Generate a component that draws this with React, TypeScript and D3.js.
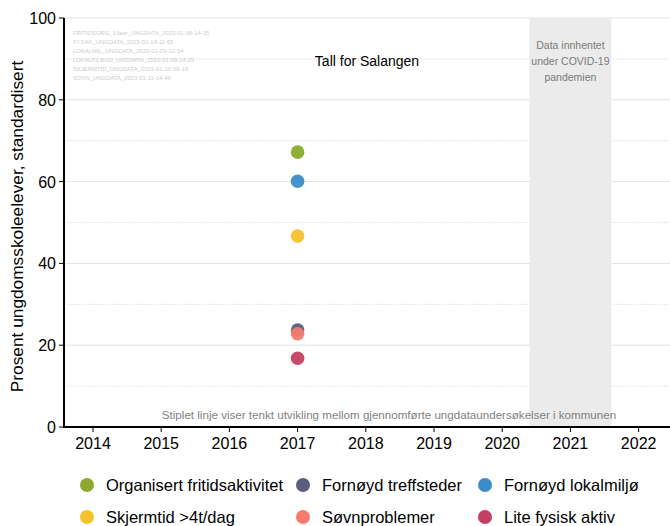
import React from "react";
import * as d3 from "d3";

const seriesNames = [
  "Organisert fritidsaktivitet",
  "Fornøyd treffsteder",
  "Fornøyd lokalmiljø",
  "Skjermtid >4t/dag",
  "Søvnproblemer",
  "Lite fysisk aktiv",
];
const seriesColors = ["#8BAA2F", "#5B5E7E", "#3A8DC8", "#F7C12C", "#F87A70", "#C43F63"];
const seriesYears = [2017, 2017, 2017, 2017, 2017, 2017];
const seriesValues = [67.2, 23.7, 60.1, 46.7, 22.8, 16.8];
const xTicks = [2014, 2015, 2016, 2017, 2018, 2019, 2020, 2021, 2022];
const yTicks = [0, 20, 40, 60, 80, 100];
const yMinor = [10, 30, 50, 70, 90];
const sourceLines = [
  "FRITIDSORG_10aar_UNGDATA_2023-01-06-14-35",
  "FYSAK_UNGDATA_2023-01-18-11-55",
  "LOKALMIL_UNGDATA_2023-01-09-12-54",
  "LOKALTILBUD_UNGDATA_2023-01-09-14-29",
  "SKJERMTID_UNGDATA_2023-01-10-09-19",
  "SOVN_UNGDATA_2023-01-11-14-49",
];
const covidStart = 2020.4;
const covidEnd = 2021.6;

const W = 670, H = 526;
const left = 64, right = 670, top = 18, bottom = 427;

export default function App() {
  const x = d3.scaleLinear().domain([2013.575, 2022.46]).range([left, right]);
  const y = d3.scaleLinear().domain([0, 100]).range([bottom, top]);
  const font = "'Liberation Sans', Arial, sans-serif";
  const legendX = [87, 303, 485];
  const legendY = [485, 517];
  const cMid = (x(covidStart) + x(covidEnd)) / 2;
  return (
    <svg width={W} height={H} style={{ position: "absolute", left: 0, top: 0, fontFamily: font }}>
      <rect width={W} height={H} fill="#fff" />
      {yMinor.map((v) => (
        <line key={"m" + v} x1={left} x2={right} y1={y(v)} y2={y(v)} stroke="#d4d4d4" strokeWidth={0.8} strokeDasharray="1.5,1.5" />
      ))}
      {yTicks.slice(1).map((v) => (
        <line key={"g" + v} x1={left} x2={right} y1={y(v)} y2={y(v)} stroke="#e2e2e2" strokeWidth={1} />
      ))}
      <rect x={x(covidStart)} y={top} width={x(covidEnd) - x(covidStart)} height={bottom - top} fill="#ebebeb" />
      <g fill="#cdcdcd" fontSize={5.9}>
        {sourceLines.map((s, i) => (
          <text key={s} x={73} y={35 + i * 9}>{s}</text>
        ))}
      </g>
      <text x={367} y={66} textAnchor="middle" fontSize={14} fill="#000">Tall for Salangen</text>
      <g fill="#7a7a7a" fontSize={10.5} textAnchor="middle">
        <text x={cMid} y={49}>Data innhentet</text>
        <text x={cMid} y={65}>under COVID-19</text>
        <text x={cMid} y={81}>pandemien</text>
      </g>
      <text x={389} y={419} textAnchor="middle" fontSize={11.6} fill="#7f7f7f">
        Stiplet linje viser tenkt utvikling mellom gjennomførte ungdataundersøkelser i kommunen
      </text>
      {seriesNames.map((n, i) => (
        <circle key={n} cx={x(seriesYears[i])} cy={y(seriesValues[i])} r={6.8} fill={seriesColors[i]} opacity={0.95} />
      ))}
      <line x1={left} x2={left} y1={top} y2={bottom} stroke="#000" strokeWidth={2} />
      <line x1={left - 1} x2={right} y1={bottom} y2={bottom} stroke="#000" strokeWidth={2} />
      {yTicks.map((v) => (
        <g key={"yt" + v}>
          <line x1={left - 5} x2={left} y1={y(v)} y2={y(v)} stroke="#000" strokeWidth={1} />
          <text x={left - 8} y={y(v) + 6} textAnchor="end" fontSize={16} fill="#000">{v}</text>
        </g>
      ))}
      {xTicks.map((v) => (
        <g key={"xt" + v}>
          <line x1={x(v)} x2={x(v)} y1={bottom} y2={bottom + 5} stroke="#000" strokeWidth={1} />
          <text x={x(v)} y={bottom + 22} textAnchor="middle" fontSize={16} fill="#000">{v}</text>
        </g>
      ))}
      <text transform={`translate(23,${(top + bottom) / 2 + 4}) rotate(-90)`} textAnchor="middle" fontSize={17.3} fill="#000">
        Prosent ungdomsskoleelever, standardisert
      </text>
      {seriesNames.map((n, i) => {
        const cx = legendX[i % 3];
        const cy = legendY[Math.floor(i / 3)];
        return (
          <g key={"l" + n}>
            <circle cx={cx} cy={cy} r={7} fill={seriesColors[i]} />
            <text x={cx + 19} y={cy + 6} fontSize={16.5} fill="#000">{n}</text>
          </g>
        );
      })}
    </svg>
  );
}
